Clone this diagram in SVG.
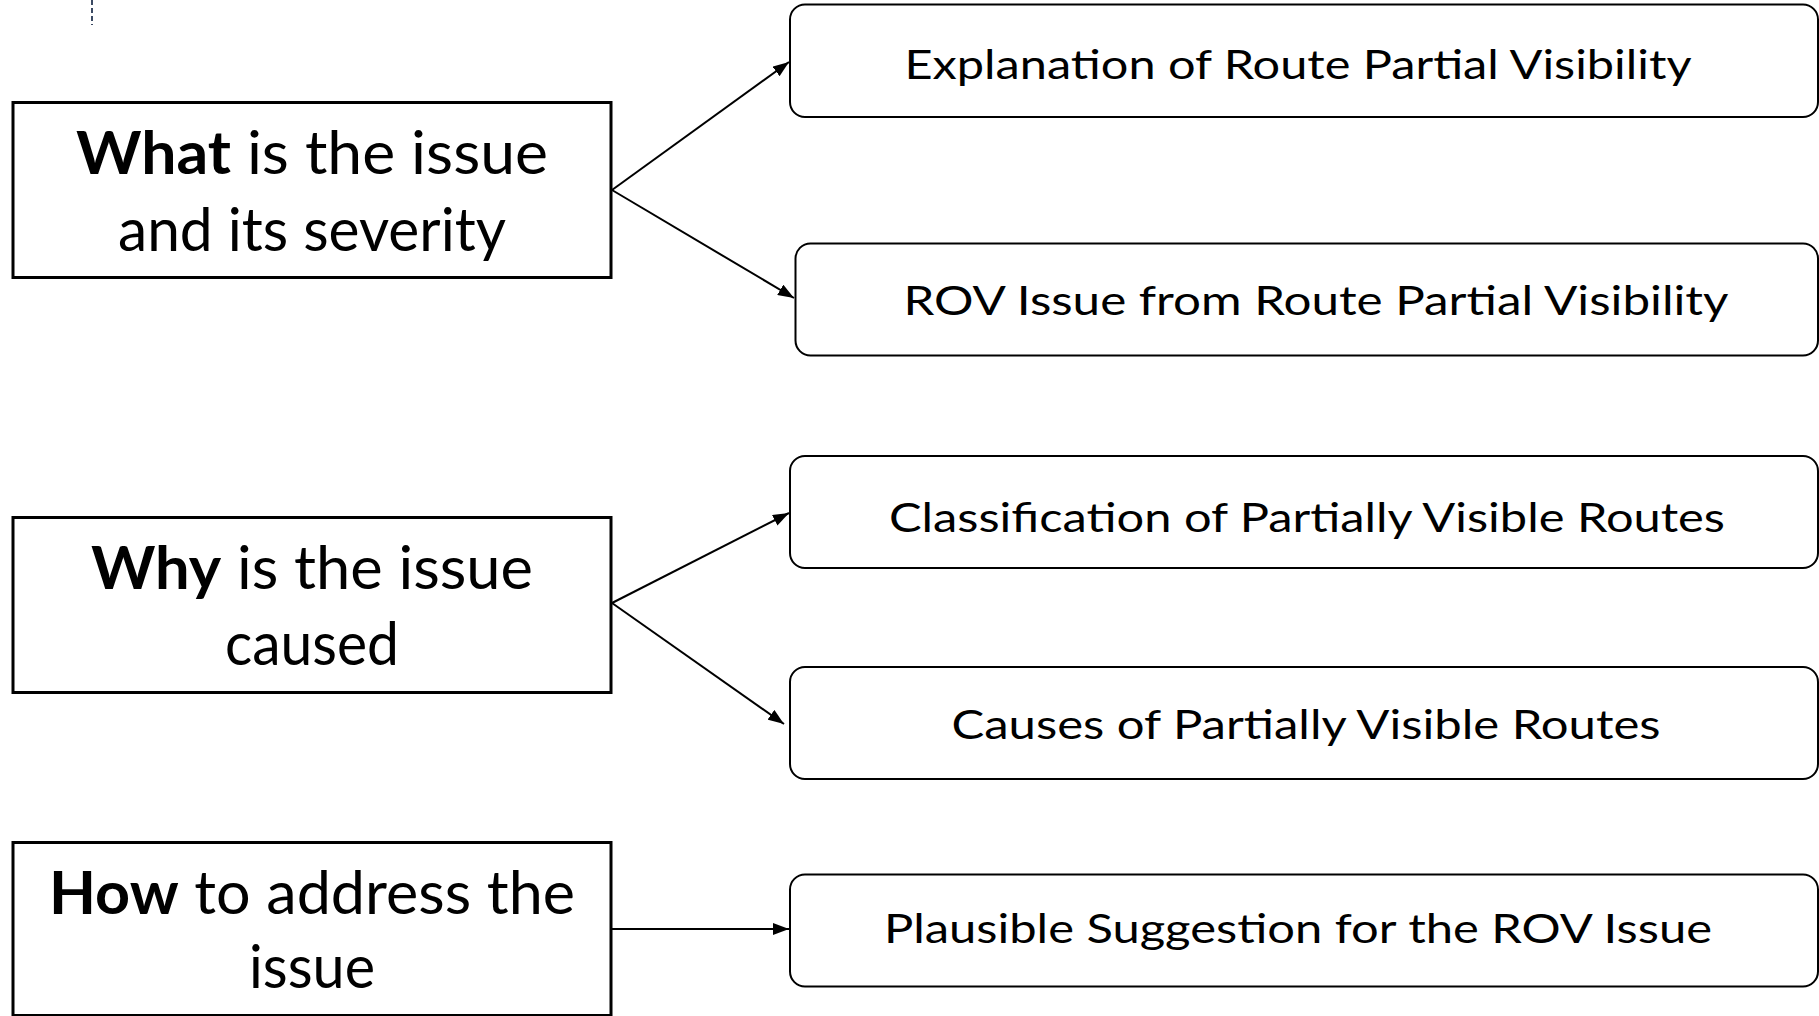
<svg xmlns="http://www.w3.org/2000/svg" width="1819" height="1016" viewBox="0 0 1819 1016">
<style>
.q{fill:#fff;stroke:#000;stroke-width:3}
.a{fill:#fff;stroke:#000;stroke-width:2}
.lt{font-family:Lato,"Liberation Sans",sans-serif;font-size:60px;fill:#000;text-anchor:middle}
.rt{font-family:Lato,"Liberation Sans",sans-serif;font-size:40px;fill:#000;text-anchor:middle}
.b{font-weight:bold}
.c{stroke:#000;stroke-width:2;fill:none;marker-end:url(#ah)}
</style>
<defs>
<marker id="ah" viewBox="0 0 16 12" refX="16" refY="6" markerWidth="16" markerHeight="12" orient="auto" markerUnits="userSpaceOnUse">
<path d="M0,0 L16,6 L0,12 z" fill="#000"/>
</marker>
</defs>
<rect width="1819" height="1016" fill="#fff"/>
<line x1="92" y1="0" x2="92" y2="25" stroke="#3B4A63" stroke-width="2" stroke-dasharray="5 3"/>
<g id="connectors">
<path class="c" d="M612,190 L789,62"/>
<path class="c" d="M612,190 L794,298"/>
<path class="c" d="M612,603 L789,513"/>
<path class="c" d="M612,603 L784,724"/>
<path class="c" d="M612,929 L789,929"/>
</g>
<g id="what">
<rect class="q" x="13" y="102.5" width="598" height="175"/>
<text class="lt" x="312" y="174" textLength="472" lengthAdjust="spacingAndGlyphs"><tspan class="b">What</tspan> is the issue</text>
<text class="lt" x="312" y="251" textLength="388" lengthAdjust="spacingAndGlyphs">and its severity</text>
</g>
<g id="why">
<rect class="q" x="13" y="517.5" width="598" height="175"/>
<text class="lt" x="312" y="589" textLength="442" lengthAdjust="spacingAndGlyphs"><tspan class="b">Why</tspan> is the issue</text>
<text class="lt" x="312" y="665" textLength="174" lengthAdjust="spacingAndGlyphs">caused</text>
</g>
<g id="how">
<rect class="q" x="13" y="842.5" width="598" height="173"/>
<text class="lt" x="312" y="914" textLength="526" lengthAdjust="spacingAndGlyphs"><tspan class="b">How</tspan> to address the</text>
<text class="lt" x="312" y="988" textLength="126" lengthAdjust="spacingAndGlyphs">issue</text>
</g>
<g id="explanation">
<rect class="a" x="790" y="4.5" width="1028" height="112.5" rx="15"/>
<text class="rt" x="1298" y="79" textLength="787" lengthAdjust="spacingAndGlyphs">Explanation of Route Partial Visibility</text>
</g>
<g id="rov-issue">
<rect class="a" x="795.5" y="243.5" width="1022.5" height="112" rx="15"/>
<text class="rt" x="1316" y="315" textLength="825" lengthAdjust="spacingAndGlyphs">ROV Issue from Route Partial Visibility</text>
</g>
<g id="classification">
<rect class="a" x="790" y="456" width="1028" height="112" rx="15"/>
<text class="rt" x="1307" y="532" textLength="836" lengthAdjust="spacingAndGlyphs">Classification of Partially Visible Routes</text>
</g>
<g id="causes">
<rect class="a" x="790" y="667" width="1028" height="112" rx="15"/>
<text class="rt" x="1306" y="739" textLength="709" lengthAdjust="spacingAndGlyphs">Causes of Partially Visible Routes</text>
</g>
<g id="suggestion">
<rect class="a" x="790" y="874.5" width="1028" height="112" rx="15"/>
<text class="rt" x="1298" y="943" textLength="828" lengthAdjust="spacingAndGlyphs">Plausible Suggestion for the ROV Issue</text>
</g>
</svg>
